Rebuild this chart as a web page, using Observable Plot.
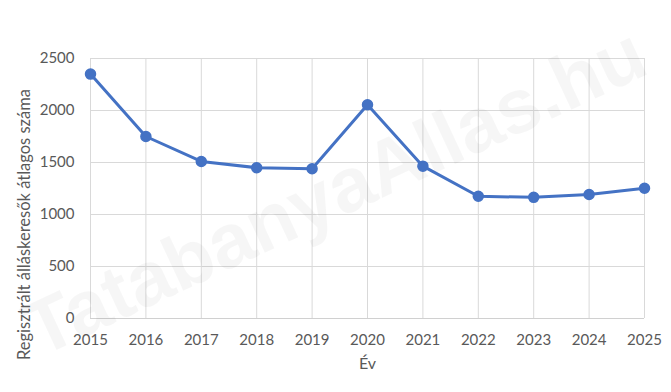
<!DOCTYPE html>
<html>
<head>
<meta charset="utf-8">
<script src="https://cdn.jsdelivr.net/npm/d3@7"></script>
<script src="https://cdn.jsdelivr.net/npm/@observablehq/plot@0.6"></script>
<style>
  html, body { margin: 0; padding: 0; background: #fff; }
  #chart { width: 671px; height: 392px; }
</style>
</head>
<body>
<div id="chart"></div>
<script>
const years = [2015, 2016, 2017, 2018, 2019, 2020, 2021, 2022, 2023, 2024, 2025];
const values = [2350, 1750, 1510, 1450, 1440, 2055, 1465, 1175, 1165, 1192, 1252];
const yTicks = [0, 500, 1000, 1500, 2000, 2500];
const xTitle = "Év";
const yTitle = "Regisztrált álláskeresők átlagos száma";
const watermark = "TatabanyaAllas.hu";

const data = years.map((y, i) => ({year: y, value: values[i]}));
const font = "Lato, 'Open Sans', sans-serif";

const chart = Plot.plot({
  width: 671,
  height: 392,
  marginLeft: 90,
  marginRight: 27,
  marginTop: 58,
  marginBottom: 74,
  style: {fontFamily: font, fontSize: "15px", color: "#595959", background: "#fff"},
  x: {type: "linear", domain: [2015, 2025], ticks: years, tickFormat: d => String(d), tickSize: 0, tickPadding: 16, label: null},
  y: {domain: [0, 2500], ticks: yTicks, tickFormat: d => String(d), tickSize: 0, tickPadding: 16, label: null},
  marks: [
    Plot.gridX(years, {stroke: "#d9d9d9", strokeOpacity: 1}),
    Plot.gridY(yTicks, {stroke: "#d9d9d9", strokeOpacity: 1}),
    Plot.ruleY([0], {stroke: "#d0d0d0"}),
    Plot.text([watermark], {frameAnchor: "middle", dx: -32, dy: 4, rotate: -25, fontSize: 77, fontWeight: "bold", fontFamily: "'Liberation Sans', Arial, sans-serif", fill: "#000", fillOpacity: 0.035}),
    Plot.line(data, {x: "year", y: "value", stroke: "#4472C4", strokeWidth: 3}),
    Plot.dot(data, {x: "year", y: "value", r: 5, fill: "#4472C4", stroke: "#4472C4"}),
    Plot.text([xTitle], {frameAnchor: "bottom", lineAnchor: "middle", dy: 45, fontSize: 16, fill: "#595959"}),
    Plot.text([yTitle], {frameAnchor: "left", textAnchor: "middle", lineAnchor: "middle", dx: -66, dy: 36, rotate: -90, fontSize: 16.5, fill: "#595959"})
  ]
});
document.getElementById("chart").appendChild(chart);
</script>
</body>
</html>
